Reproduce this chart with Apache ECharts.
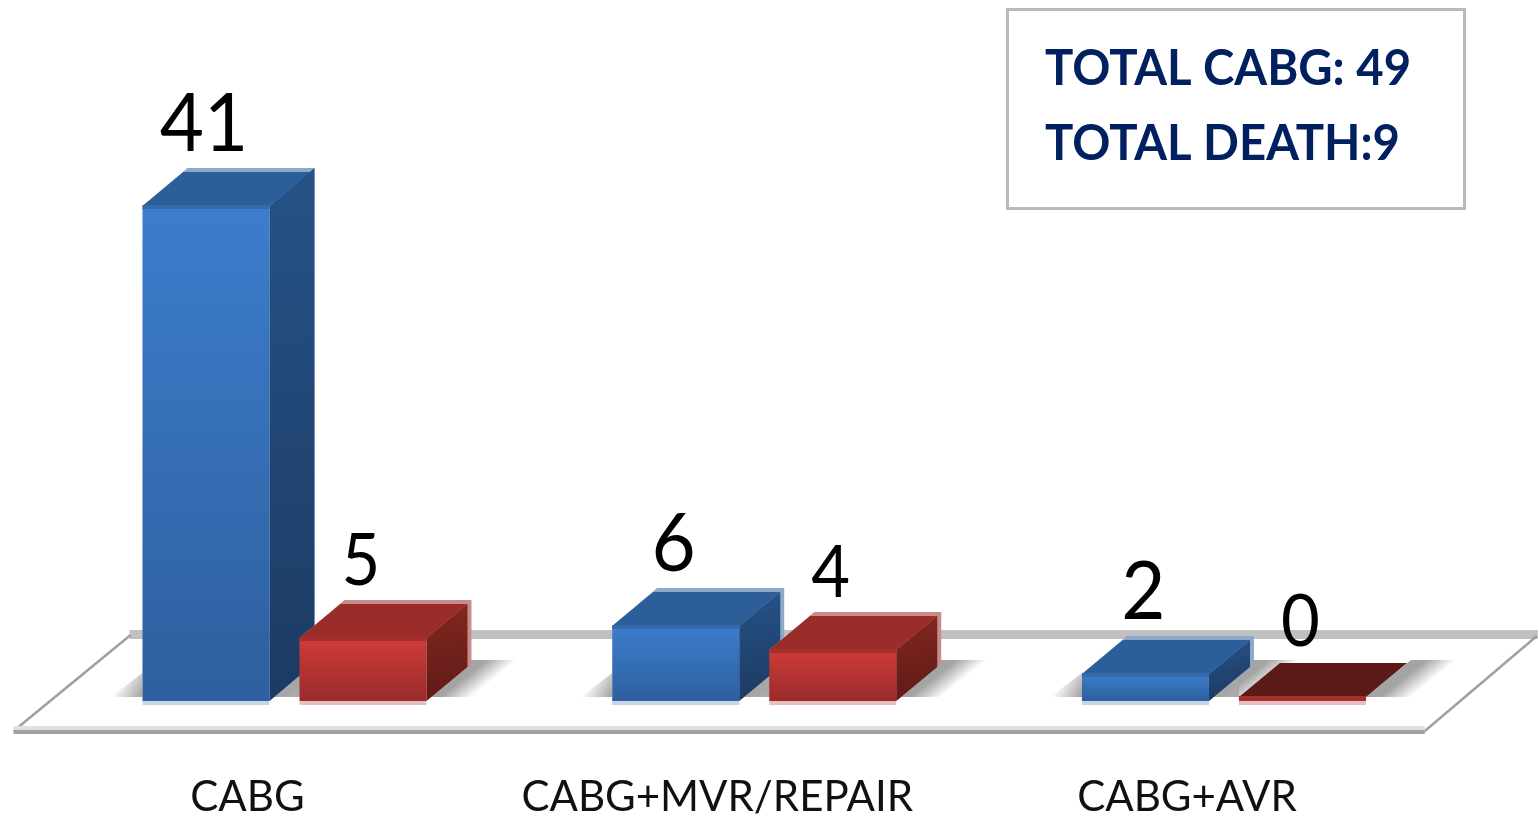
<!DOCTYPE html>
<html>
<head>
<meta charset="utf-8">
<title>CABG</title>
<style>
  html, body { margin: 0; padding: 0; background: #fff; }
  #chart { width: 1539px; height: 817px; }
</style>
<script src="https://cdn.jsdelivr.net/npm/echarts@6/dist/echarts.min.js"></script>
</head>
<body>
<div id="chart"></div>
<script>
var categories = ['CABG', 'CABG+MVR/REPAIR', 'CABG+AVR']
var totalValues = [41, 6, 2]
var deathValues = [5, 4, 0]
var noteLines = ['TOTAL CABG: 49', 'TOTAL DEATH:9']

var FONT = 'Lato'
var BAR_W = 127
var BAR_OFFSET = 78.5
var DX = 45 // 柱子侧面的进深
var DY = 38
var PLINTH = 3 // 柱子比0刻度多出的底边

var blue = {
  front: ['#3c7dcc', '#2e5f9e'], edge: '#3569a8', top: '#2c5f99', zeroTop: '#2c5f99',
  side: ['#265287', '#1c3b63'], glow: '#8ea8c8', foot: '#c8d4e8'
}
var red = {
  front: ['#cf3b38', '#992b2a'], edge: '#a52f2d', top: '#9a2c2a', zeroTop: '#5a1a18',
  side: ['#83271f', '#611a18'], glow: '#c98c8c', foot: '#e6bfbf'
}

function grad (colors, x2, y2) {
  return new echarts.graphic.LinearGradient(0, 0, x2, y2, [
    { offset: 0, color: colors[0] },
    { offset: 1, color: colors[1] }
  ])
}

function poly (points, fill) {
  return { type: 'polygon', shape: { points: points }, style: { fill: fill } }
}

// 3D柱子：正面、顶面、侧面，位置全部由坐标轴算出
function renderBar (theme, dir, labelSize) {
  return function (params, api) {
    var value = api.value(1)
    var center = api.coord([api.value(0), 0])[0] + dir * BAR_OFFSET
    var y0 = api.coord([0, 0])[1]
    var ty = api.coord([0, value])[1]
    var by = y0 + PLINTH
    var l = center - BAR_W / 2
    var r = center + BAR_W / 2
    var frontTop = value === 0 ? y0 - 1 : ty
    var d = 4
    var tall = by - frontTop > 100
    var sideD = tall ? 0 : d
    var children = []
    // 外圈的浅色描边，高柱子和0柱子没有
    if (value !== 0) {
      children.push(poly([[l, frontTop], [l + DX, frontTop - DY], [r + DX, frontTop - DY], [r + DX, by - DY], [r, by], [r, frontTop]], theme.glow))
      children.push(poly([[r, frontTop], [r + DX - sideD, frontTop - DY + sideD], [r + DX - sideD, by - DY + sideD], [r, by]], grad(theme.side, 0.3, 1)))
    }
    children.push(
      poly([[l, frontTop], [l + DX - d, frontTop - DY + d], [r + DX - d, frontTop - DY + d], [r, frontTop]], value === 0 ? theme.zeroTop : theme.top),
      { type: 'rect', shape: { x: l, y: frontTop, width: BAR_W, height: by - frontTop }, style: { fill: value === 0 ? theme.edge : grad(theme.front, 0, 1) } },
      { type: 'rect', shape: { x: l, y: frontTop - 1, width: BAR_W, height: 4 }, style: { fill: theme.edge } },
      { type: 'rect', shape: { x: l, y: by, width: BAR_W, height: 4 }, style: { fill: theme.foot } },
      {
        type: 'text',
        z2: 20,
        x: center - 2,
        y: frontTop - 40 + (value === 0 ? 2 : 0),
        scaleX: 0.93,
        style: {
          text: String(value),
          x: 0,
          y: 0,
          fill: '#000',
          font: labelSize + 'px ' + FONT,
          align: 'center',
          verticalAlign: 'bottom'
        }
      }
    )
    return { type: 'group', children: children }
  }
}

function fade (x1, y1, x2, y2, from, to) {
  return new echarts.graphic.LinearGradient(x1, y1, x2, y2, [
    { offset: 0, color: from },
    { offset: 1, color: to }
  ], true)
}

// 柱子落在底板上的影子
function renderShadow (dir) {
  return function (params, api) {
    var center = api.coord([api.value(0), 0])[0] + dir * BAR_OFFSET
    var y0 = api.coord([0, 0])[1]
    var l = center - BAR_W / 2
    var r = center + BAR_W / 2
    var base = y0 - 1
    return {
      type: 'group',
      children: [
        poly([[r, base], [r + 45, base - 37], [r + 92, base - 37], [r + 48, base]],
          fade(r + 14, base, r + 26, base + 15, '#a4a4a4', 'rgba(164,164,164,0)')),
        poly([[l - 32, base], [l, base], [l, base - 24]],
          fade(l - 2, base - 1, l - 24, base - 13, '#a8a8a8', 'rgba(168,168,168,0)'))
      ]
    }
  }
}

// 底板，相对于0刻度和绘图区定位
function renderFloor (params, api) {
  var cs = params.coordSys
  var y0 = api.coord([0, 0])[1]
  var left = cs.x
  var right = cs.x + cs.width
  var frontY = y0 + 32
  var backY = y0 - 62
  return {
    type: 'group',
    children: [
      { type: 'rect', shape: { x: left + 80, y: backY - 6, width: right - left - 1, height: 9 }, style: { fill: '#c0c0c0' } },
      { type: 'line', shape: { x1: left - 36, y1: frontY + 1, x2: left + 81, y2: backY - 1 }, style: { stroke: '#a0a0a0', lineWidth: 2.5 } },
      { type: 'line', shape: { x1: right - 34, y1: frontY + 1, x2: right + 78, y2: backY }, style: { stroke: '#a0a0a0', lineWidth: 2.5 } },
      { type: 'rect', shape: { x: left - 36, y: frontY - 4, width: right - left + 2, height: 4 }, style: { fill: '#e0e0e0' } },
      { type: 'rect', shape: { x: left - 36, y: frontY, width: right - left + 2, height: 4 }, style: { fill: '#a0a0a0' } }
    ]
  }
}

function pairs (values) {
  return values.map(function (v, i) { return [i, v] })
}

var chart = echarts.init(document.getElementById('chart'))
chart.setOption({
  animation: false,
  backgroundColor: '#fff',
  grid: { left: 49.6, width: 1409.25, top: 98, height: 600, outerBoundsMode: 'none' },
  xAxis: {
    type: 'category',
    data: categories,
    axisLine: { show: false },
    axisTick: { show: false },
    axisLabel: {
      interval: 0,
      color: '#111',
      fontFamily: FONT,
      fontSize: 42,
      margin: 78,
      padding: [0, 74, 0, 0]
    }
  },
  yAxis: { type: 'value', min: 0, max: 50, show: false },
  graphic: [
    { type: 'rect', shape: { x: 1007.5, y: 9.5, width: 457, height: 199 }, style: { fill: '#fff', stroke: '#bababa', lineWidth: 3 } },
    { type: 'text', x: 1045, y: 69, scaleX: 0.945, style: { text: noteLines[0], fill: '#002060', font: 'bold 50px ' + FONT, verticalAlign: 'middle' } },
    { type: 'text', x: 1045, y: 144, scaleX: 0.945, style: { text: noteLines[1], fill: '#002060', font: 'bold 50px ' + FONT, verticalAlign: 'middle' } }
  ],
  series: [
    { type: 'custom', z: 1, silent: true, data: [[0, 0]], renderItem: renderFloor },
    { type: 'custom', z: 2, silent: true, data: pairs(totalValues), renderItem: renderShadow(-1) },
    { type: 'custom', z: 2, silent: true, data: pairs(deathValues), renderItem: renderShadow(1) },
    { type: 'custom', z: 3, name: 'Total', data: pairs(totalValues), renderItem: renderBar(blue, -1, 82) },
    { type: 'custom', z: 4, name: 'Death', data: pairs(deathValues), renderItem: renderBar(red, 1, 72) }
  ]
})
</script>
</body>
</html>
